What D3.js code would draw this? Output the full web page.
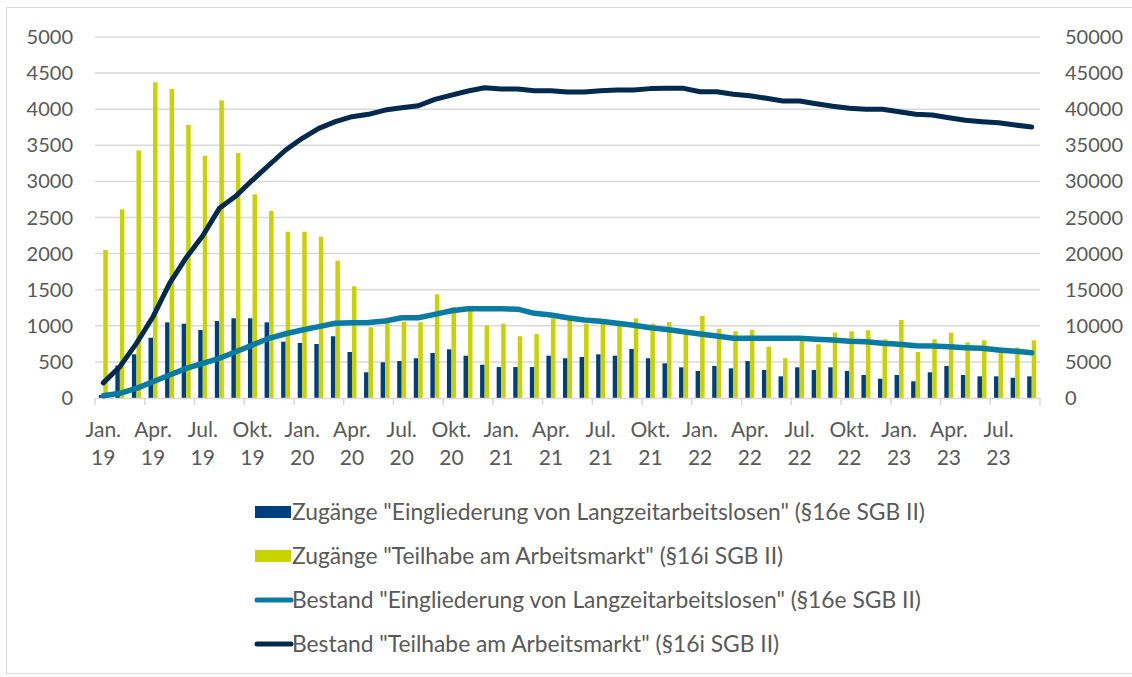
<!DOCTYPE html>
<html lang="de">
<head>
<meta charset="utf-8">
<title>Teilhabechancengesetz</title>
<script src="https://cdn.jsdelivr.net/npm/d3@7"></script>
<style>
  body { margin: 0; background: #fff; }
  svg text { font-family: Lato, "Open Sans", sans-serif; fill: #595959; }
</style>
</head>
<body>
<script>
// months Jan 2019 .. Sep 2023
var months = d3.timeMonths(new Date(2019, 0, 1), new Date(2023, 9, 1))
var monthNames = ["Jan.", "Apr.", "Jul.", "Okt."]

// Zugänge (left axis)
var zugang16e = [40, 450, 605, 835, 1048, 1029, 942, 1066, 1104, 1104, 1048, 780,
  762, 748, 855, 637, 356, 494, 512, 550, 623, 674, 586, 461,
  429, 429, 429, 586, 550, 568, 605, 586, 679, 550, 480, 425,
  374, 443, 411, 512, 388, 300, 425, 388, 425, 374, 319, 267,
  319, 231, 356, 443, 319, 300, 300, 281, 300]
var zugang16i = [2050, 2613, 3430, 4372, 4280, 3781, 3356, 4123, 3393, 2821, 2590, 2303,
  2303, 2234, 1902, 1547, 979, 1048, 1057, 1050, 1436, 1260, 1260, 1007,
  1029, 855, 886, 1104, 1080, 1029, 1040, 1000, 1104, 1029, 1052, 900,
  1136, 956, 924, 942, 711, 550, 830, 744, 905, 924, 938, 813,
  1080, 637, 813, 905, 770, 799, 680, 700, 799]

// Bestand (right axis)
var bestand16e = [300, 650, 1340, 2260, 3190, 4110, 4810, 5500, 6410, 7340, 8270, 8900,
  9420, 9880, 10350, 10430, 10450, 10660, 11120, 11120, 11590, 12090, 12350, 12370,
  12370, 12300, 11730, 11500, 11120, 10800, 10620, 10350, 10070, 9740, 9500, 9180,
  8860, 8590, 8270, 8270, 8270, 8270, 8270, 8130, 8030, 7850, 7800, 7570,
  7440, 7250, 7200, 7100, 6970, 6880, 6650, 6470, 6280]
var bestand16i = [2100, 4340, 7570, 11260, 15890, 19430, 22480, 26270, 27980, 30190, 32270, 34350,
  35970, 37350, 38270, 38960, 39290, 39880, 40200, 40480, 41370, 41960, 42520, 42980,
  42800, 42800, 42560, 42560, 42380, 42380, 42560, 42660, 42660, 42850, 42890, 42890,
  42420, 42420, 42060, 41870, 41510, 41130, 41130, 40760, 40400, 40120, 39990, 39990,
  39650, 39290, 39200, 38820, 38460, 38270, 38130, 37810, 37530]

var leftTicks = d3.range(0, 5001, 500)
var rightTicks = d3.range(0, 50001, 5000)

var legendItems = [
  {label: 'Zugänge "Eingliederung von Langzeitarbeitslosen" (§16e SGB II)', type: "rect", color: "#003f7f"},
  {label: 'Zugänge "Teilhabe am Arbeitsmarkt" (§16i SGB II)', type: "rect", color: "#c9d300"},
  {label: 'Bestand "Eingliederung von Langzeitarbeitslosen" (§16e SGB II)', type: "line", color: "#0a7ba3"},
  {label: 'Bestand "Teilhabe am Arbeitsmarkt" (§16i SGB II)', type: "line", color: "#012a4e"}
]

var w = 1132, h = 677
var plotL = 95, plotR = 1040, plotT = 37, plotB = 398

var svg = d3.select("body").append("svg").attr("width", w).attr("height", h)

svg.append("rect")
  .attr("x", 6.5).attr("y", 7.5).attr("width", w).attr("height", 666)
  .attr("fill", "none").attr("stroke", "#d9d9d9")

var x = d3.scaleBand().domain(d3.range(months.length)).range([plotL, plotR])
var xInner = d3.scaleBand().domain(["e", "i"]).range([0, x.bandwidth()]).paddingOuter(0.84)
var yL = d3.scaleLinear().domain([0, 5000]).range([plotB, plotT])
var yR = d3.scaleLinear().domain([0, 50000]).range([plotB, plotT])

// gridlines
svg.selectAll(".grid")
  .data(leftTicks.slice(1))
  .enter()
  .append("line")
  .attr("x1", plotL).attr("x2", plotR)
  .attr("y1", function(d) { return yL(d) }).attr("y2", function(d) { return yL(d) })
  .attr("stroke", "#d9d9d9").attr("stroke-width", 1.5)

// axis labels
svg.selectAll(".ylab")
  .data(leftTicks)
  .enter()
  .append("text")
  .attr("x", 73).attr("y", function(d) { return yL(d) + 7 })
  .attr("text-anchor", "end").attr("font-size", "20px")
  .text(function(d) { return d })

svg.selectAll(".yrlab")
  .data(rightTicks)
  .enter()
  .append("text")
  .attr("x", 1065).attr("y", function(d) { return yR(d) + 7 })
  .attr("font-size", "20px")
  .text(function(d) { return d })

// bars
var bars = svg.append("g")
bars.selectAll(".b16e")
  .data(zugang16e)
  .enter()
  .append("rect")
  .attr("x", function(d, i) { return x(i) + xInner("e") })
  .attr("width", xInner.bandwidth())
  .attr("y", function(d) { return yL(d) })
  .attr("height", function(d) { return plotB - yL(d) })
  .attr("fill", legendItems[0].color)

bars.selectAll(".b16i")
  .data(zugang16i)
  .enter()
  .append("rect")
  .attr("x", function(d, i) { return x(i) + xInner("i") })
  .attr("width", xInner.bandwidth())
  .attr("y", function(d) { return yL(d) })
  .attr("height", function(d) { return plotB - yL(d) })
  .attr("fill", legendItems[1].color)

// x axis line + ticks
svg.append("line")
  .attr("x1", plotL).attr("x2", plotR).attr("y1", plotB + 0.5).attr("y2", plotB + 0.5)
  .attr("stroke", "#d9d9d9").attr("stroke-width", 1.5)

var tickIdx = d3.range(0, months.length + 1, 3)
svg.selectAll(".xtick")
  .data(tickIdx)
  .enter()
  .append("line")
  .attr("x1", function(d) { return plotL + d * x.step() })
  .attr("x2", function(d) { return plotL + d * x.step() })
  .attr("y1", plotB).attr("y2", plotB + 7)
  .attr("stroke", "#d9d9d9").attr("stroke-width", 1.5)

var labelIdx = d3.range(0, months.length, 3)
var xlab = svg.selectAll(".xlab")
  .data(labelIdx)
  .enter()
  .append("text")
  .attr("text-anchor", "middle").attr("font-size", "21px")
xlab.append("tspan")
  .attr("x", function(d) { return x(d) + x.bandwidth() / 2 })
  .attr("y", 437)
  .text(function(d) { return monthNames[months[d].getMonth() / 3] })
xlab.append("tspan")
  .attr("x", function(d) { return x(d) + x.bandwidth() / 2 })
  .attr("y", 465)
  .text(function(d) { return d3.timeFormat("%y")(months[d]) })

// lines
var lineE = d3.line()
  .x(function(d, i) { return x(i) + x.bandwidth() / 2 })
  .y(function(d) { return yR(d) })

svg.append("path")
  .attr("d", lineE(bestand16e))
  .attr("fill", "none").attr("stroke", legendItems[2].color)
  .attr("stroke-width", 5.5).attr("stroke-linecap", "round").attr("stroke-linejoin", "round")

svg.append("path")
  .attr("d", lineE(bestand16i))
  .attr("fill", "none").attr("stroke", legendItems[3].color)
  .attr("stroke-width", 5).attr("stroke-linecap", "round").attr("stroke-linejoin", "round")

// legend
var lg = svg.selectAll(".legend")
  .data(legendItems)
  .enter()
  .append("g")
  .attr("transform", function(d, i) { return "translate(255," + (512 + i * 44) + ")" })

lg.filter(function(d) { return d.type == "rect" })
  .append("rect")
  .attr("x", 0).attr("y", -6).attr("width", 36).attr("height", 12)
  .attr("fill", function(d) { return d.color })

lg.filter(function(d) { return d.type == "line" })
  .append("line")
  .attr("x1", 2).attr("x2", 36).attr("y1", 0).attr("y2", 0)
  .attr("stroke", function(d) { return d.color })
  .attr("stroke-width", 5).attr("stroke-linecap", "round")

lg.append("text")
  .attr("x", 37).attr("y", 8)
  .attr("font-size", "22.8px")
  .text(function(d) { return d.label })
</script>
</body>
</html>
